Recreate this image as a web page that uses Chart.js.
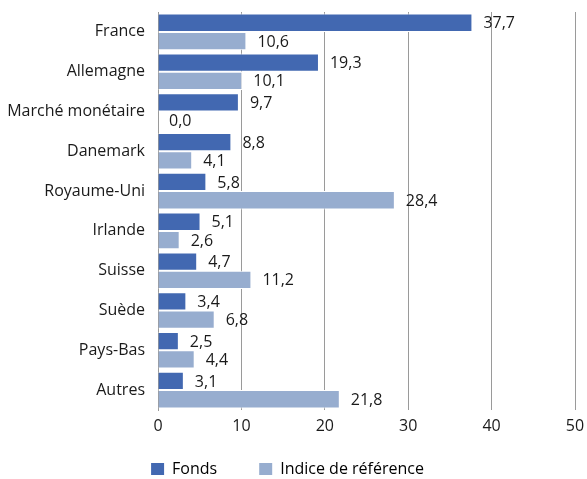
<!DOCTYPE html>
<html><head><meta charset="utf-8">
<script src="https://cdn.jsdelivr.net/npm/chart.js@4/dist/chart.umd.min.js"></script>
<style>html,body{margin:0;padding:0;background:#fff}#w{width:587px;height:479px}</style>
</head><body><div id="w"><canvas id="c"></canvas></div>
<script>
const categories = ["France","Allemagne","Marché monétaire","Danemark","Royaume-Uni","Irlande","Suisse","Suède","Pays-Bas","Autres"];
const fonds = [37.7,19.3,9.7,8.8,5.8,5.1,4.7,3.4,2.5,3.1];
const indice = [10.6,10.1,0.0,4.1,28.4,2.6,11.2,6.8,4.4,21.8];
const seriesNames = ["Fonds","Indice de référence"];
const xTicks = [0,10,20,30,40,50];

const FONT = "'Open Sans', 'Noto Sans', sans-serif";
const FS = 16;
const labelPlugin = {
  id:'vals',
  afterDatasetsDraw(chart){
    const ctx = chart.ctx;
    ctx.save();
    ctx.font = FS + "px " + FONT;
    ctx.fillStyle = "#1a1a1a";
    ctx.textBaseline = "middle";
    ctx.textAlign = "left";
    chart.data.datasets.forEach((ds,i)=>{
      chart.getDatasetMeta(i).data.forEach((bar,j)=>{
        const v = ds.data[j];
        ctx.fillText(v.toFixed(1).replace('.',','), bar.x + 11, bar.y + 1);
      });
    });
    ctx.restore();
  }
};

new Chart(document.getElementById('c'), {
  type:'bar',
  data:{
    labels:categories,
    datasets:[
      {label:seriesNames[0], data:fonds, backgroundColor:'#4268b1', borderColor:'#ffffff', borderWidth:{top:1,bottom:1,right:1,left:0}, categoryPercentage:0.92, barPercentage:1.0},
      {label:seriesNames[1], data:indice, backgroundColor:'#97adcf', borderColor:'#ffffff', borderWidth:{top:1,bottom:1,right:1,left:0}, categoryPercentage:0.92, barPercentage:1.0}
    ]
  },
  options:{
    indexAxis:'y',
    responsive:true,
    maintainAspectRatio:false,
    animation:false,
    layout:{padding:{top:12,right:12,left:0,bottom:-8}},
    plugins:{
      legend:{
        position:'bottom',
        labels:{font:{family:FONT,size:FS},color:'#1a1a1a',boxWidth:13,boxHeight:12,padding:10,
          generateLabels(chart){
            const n = chart.data.datasets.length;
            return chart.data.datasets.map((d,i)=>({text:d.label + (i < n-1 ? '\u2003\u2003' : ''),fillStyle:d.backgroundColor,strokeStyle:d.backgroundColor,lineWidth:0,datasetIndex:i}));
          }}
      },
      tooltip:{enabled:false}
    },
    scales:{
      x:{
        min:0,max:50,
        afterBuildTicks(s){ s.ticks = xTicks.map(v=>({value:v})); },
        grid:{color:'#9a9a9a',lineWidth:1,drawTicks:false},
        border:{display:false},
        ticks:{font:{family:FONT,size:FS},color:'#1a1a1a',padding:7},
        afterFit(s){ s.height = 41; s.paddingLeft = 0; s.paddingRight = 0; }
      },
      y:{
        grid:{display:false,drawTicks:false},
        border:{display:true,color:'#9a9a9a',width:1},
        ticks:{font:{family:FONT,size:FS},color:'#1a1a1a',padding:13},
        afterFit(s){ s.width = 158; s.paddingTop = 0; s.paddingBottom = 0; }
      }
    }
  },
  plugins:[labelPlugin]
});
</script></body></html>
